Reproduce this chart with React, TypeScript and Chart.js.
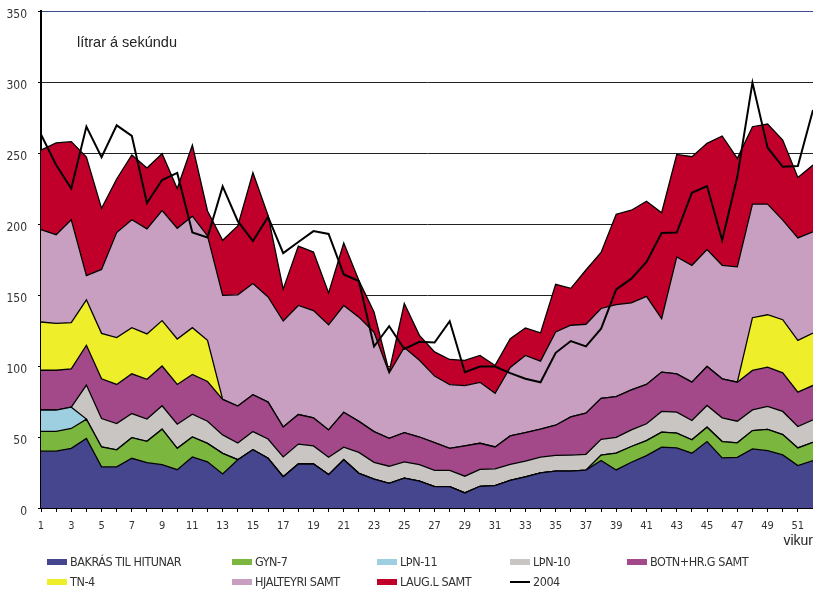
import React, { useEffect, useRef } from 'react';
import { Chart, registerables } from 'chart.js';

Chart.register(...registerables);

// ---- data ----
const weeks = ['1','2','3','4','5','6','7','8','9','10','11','12','13','14','15','16','17','18','19','20','21','22','23','24','25','26','27','28','29','30','31','32','33','34','35','36','37','38','39','40','41','42','43','44','45','46','47','48','49','50','51','52'];

const bakras = [40, 40, 42, 49, 29, 29, 35, 32, 30.5, 27, 36, 32.5, 24, 34, 41, 35, 22, 31, 31, 23.5, 34, 24.4, 20.4, 17.4, 21, 19, 15, 15, 10.6, 15.3, 15.8, 19.4, 22, 24.8, 26, 26, 26.7, 33.5, 26.8, 32.2, 36.9, 42.8, 42.3, 38.6, 46.8, 35.3, 35.7, 41.6, 40.4, 37.4, 29.9, 33.4];
const gyn7 = [14, 14, 14, 13.6, 14, 12, 14.5, 15, 25, 15, 14, 13, 14.5, 0, 0, 0, 0, 0, 0, 0, 0, 0, 0, 0, 0, 0, 0, 0, 0, 0, 0, 0, 0, 0, 0, 0, 0, 3.8, 11.8, 11.1, 10.6, 10.6, 10.4, 9.4, 10.1, 11.5, 10.2, 12.9, 14.9, 14.3, 12.4, 12.9];
const lthn11 = [15, 15, 15, 0, 0, 0, 0, 0, 0, 0, 0, 0, 0, 0, 0, 0, 0, 0, 0, 0, 0, 0, 0, 0, 0, 0, 0, 0, 0, 0, 0, 0, 0, 0, 0, 0, 0, 0, 0, 0, 0, 0, 0, 0, 0, 0, 0, 0, 0, 0, 0, 0];
const lthn10 = [0, 0, 0, 24, 20, 18.5, 17, 15.6, 16.5, 17, 16, 15.6, 13, 11.8, 12.8, 13.6, 14, 14, 12.7, 12.2, 8.8, 14.8, 11.8, 12, 11.5, 11.5, 11.5, 11.5, 11.8, 11.9, 11.8, 11.3, 11, 11.1, 11, 11.3, 11.1, 11.1, 11.2, 11.7, 11.8, 14.6, 14.8, 13.6, 15.3, 16.7, 15.2, 14.6, 16.2, 16.3, 15.1, 15.8];
const botn = [28, 28, 27, 28, 28, 27.5, 28, 28, 28, 28, 28, 28, 25, 26, 26, 26, 21, 20.8, 19.7, 19.3, 24.6, 21.8, 21.6, 19.6, 20.5, 19.5, 19.6, 15.5, 21.3, 18.4, 15.4, 20.1, 20.1, 19.6, 21.3, 26.9, 29, 28.8, 28.7, 28.2, 27.7, 27.7, 27, 27, 27.5, 27.5, 27.5, 27.8, 27.7, 27.2, 24.2, 24.2];
const tn4 = [34, 33, 32.5, 32, 32, 33, 32.5, 32, 32, 32, 33, 29, 0, 0, 0, 0, 0, 0, 0, 0, 0, 0, 0, 0, 0, 0, 0, 0, 0, 0, 0, 0, 0, 0, 0, 0, 0, 0, 0, 0, 0, 0, 0, 0, 0, 0, 0, 37.1, 36.9, 37.4, 36.4, 36.9];
const hjalteyri = [65, 62.5, 72.5, 17, 45, 74, 76, 74, 77.5, 78, 78.5, 73.5, 73.3, 78.3, 78.3, 74, 74.7, 76.8, 75.6, 74, 75.2, 73.4, 70, 46, 60, 54, 46.8, 44.9, 42.5, 42.9, 37.8, 48.2, 54.3, 47.9, 65.7, 64.5, 62.6, 63.3, 64.7, 61.2, 62, 37.6, 82.3, 82.3, 82.3, 79.9, 81.2, 80, 77.9, 70.1, 72.2, 71.3];
const laug = [56, 64.6, 55, 83.6, 43, 37.7, 45.6, 42.8, 40, 28, 50, 17.6, 38.7, 48.5, 78, 57.5, 22.4, 41.8, 41.2, 22.5, 44, 25.8, 14.2, 1, 31, 17.6, 17, 17.7, 17.7, 18.9, 19.6, 20.2, 19.4, 19.9, 33.5, 26, 38.2, 39.5, 63.7, 65.3, 67, 74.6, 72.2, 76.5, 74.8, 91.1, 76.4, 54.5, 56.4, 56.4, 42.6, 47];
const y2004 = [263, 241.6, 225, 268.6, 247, 269.5, 262, 214.8, 231, 236, 194, 190.5, 226.5, 202, 188, 205, 179.5, 187.3, 195, 193, 164.5, 159.8, 113.7, 128, 112, 117, 116.5, 131.5, 95.6, 99.6, 99.6, 95, 91, 88.5, 109.3, 117.6, 113.8, 126.3, 154, 161.5, 173.3, 193.7, 194, 222, 226.7, 188.6, 233.2, 299.6, 253.7, 240.3, 240.8, 280.3];

const seriesLabels = ['BAKRÁS TIL HITUNAR', 'GYN-7', 'LÞN-11', 'LÞN-10', 'BOTN+HR.G SAMT', 'TN-4', 'HJALTEYRI SAMT', 'LAUG.L SAMT'];
const seriesColors = ['#46468e', '#7bb63f', '#9ecfe0', '#c8c5c2', '#a3498a', '#eeee2b', '#c89fc1', '#c0002b'];
const lineLabel = '2004';
const yTitle = 'lítrar á sekúndu';
const xTitle = 'vikur';

const NARROW = '"Liberation Sans Narrow", "Arial Narrow", "DejaVu Sans Condensed", sans-serif';
const REGULAR = '"Liberation Sans", Arial, sans-serif';

export default function App() {
  const ref = useRef<HTMLCanvasElement | null>(null);

  useEffect(() => {
    if (!ref.current) return;
    const values = [bakras, gyn7, lthn11, lthn10, botn, tn4, hjalteyri, laug];
    const datasets: any[] = values.map((d, i) => ({
      label: seriesLabels[i],
      data: d,
      backgroundColor: seriesColors[i],
      borderColor: '#000',
      borderWidth: 1.3,
      fill: i === 0 ? 'origin' : '-1',
      pointRadius: 0,
      tension: 0,
      stack: 'flow',
    }));
    datasets.push({
      label: lineLabel,
      data: y2004,
      borderColor: '#000',
      backgroundColor: '#000',
      borderWidth: 2,
      fill: false,
      pointRadius: 0,
      tension: 0,
      stack: 'line2004',
      order: -1,
    });

    const chart = new Chart(ref.current, {
      type: 'line',
      data: { labels: weeks, datasets },
      options: {
        animation: false,
        responsive: false,
        layout: { padding: { top: 11, right: 0, bottom: 40, left: 0 } },
        plugins: { legend: { display: false }, tooltip: { enabled: false } },
        scales: {
          x: {
            type: 'category',
            offset: false,
            grid: { drawOnChartArea: false, drawTicks: true, tickLength: 4, color: '#000', tickColor: '#000', lineWidth: 1 },
            border: { color: '#000', width: 2 },
            ticks: {
              autoSkip: false,
              maxRotation: 0,
              minRotation: 0,
              padding: 8,
              color: '#333',
              font: { family: NARROW, size: 11 },
              callback: (_v: any, i: number) => (i % 2 === 0 ? weeks[i] : ''),
            },
            title: {
              display: true,
              text: xTitle,
              align: 'end',
              color: '#222',
              font: { family: REGULAR, size: 14 },
              padding: { top: 0, bottom: 2 },
            },
            afterFit: (s: any) => { s.height = 44; s.paddingLeft = 0; s.paddingRight = 0; },
          },
          y: {
            stacked: true,
            min: 0,
            max: 350,
            ticks: { stepSize: 50, padding: 11, labelOffset: 4, color: '#333', font: { family: NARROW, size: 12 } },
            grid: {
              color: (c: any) => (c.tick && c.tick.value === 350 ? '#3b4a8f' : '#222'),
              lineWidth: 1,
              tickLength: 3,
              tickColor: '#000',
            },
            border: { color: '#000', width: 2 },
            afterFit: (s: any) => { s.width = 41; s.paddingTop = 0; s.paddingBottom = 0; },
          },
        },
      } as any,
    });
    return () => chart.destroy();
  }, []);

  const legendCols = [47, 232, 377, 510, 627];
  const legendRows = [562, 582];
  const items = [
    ...seriesLabels.map((l, i) => ({ label: l, color: seriesColors[i], line: false })),
    { label: lineLabel, color: '#000', line: true },
  ];

  return (
    <div style={{ position: 'fixed', left: 0, top: 0, width: 813, height: 592, background: '#fff', overflow: 'hidden' }}>
      <canvas ref={ref} width={813} height={592} style={{ position: 'absolute', left: 0, top: 0, width: 813, height: 592 }} />
      <div style={{ position: 'absolute', left: 77, top: 34, fontFamily: REGULAR, fontSize: 14.5, lineHeight: '17px', color: '#222', whiteSpace: 'nowrap' }}>{yTitle}</div>
      {items.map((it, k) => {
        const col = k < 5 ? k : k - 5;
        const row = k < 5 ? 0 : 1;
        const x = legendCols[col];
        const cy = legendRows[row];
        return (
          <div key={it.label}>
            <div style={{ position: 'absolute', left: x, top: it.line ? cy - 1 : cy - 3, width: 20, height: it.line ? 2 : 6, background: it.color }} />
            <div style={{ position: 'absolute', left: x + 23, top: cy - 8, fontFamily: NARROW, fontSize: 12.5, letterSpacing: '-0.45px', lineHeight: '16px', color: '#333', whiteSpace: 'nowrap' }}>{it.label}</div>
          </div>
        );
      })}
    </div>
  );
}
